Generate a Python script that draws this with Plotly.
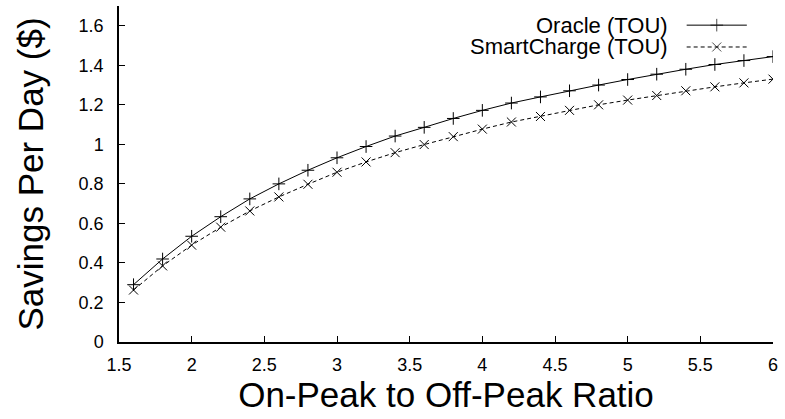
import plotly.graph_objects as go

ratio = [1.6, 1.8, 2.0, 2.2, 2.4, 2.6, 2.8, 3.0, 3.2, 3.4, 3.6, 3.8,
         4.0, 4.2, 4.4, 4.6, 4.8, 5.0, 5.2, 5.4, 5.6, 5.8, 6.0]
oracle = [0.29, 0.42, 0.535, 0.634, 0.724, 0.80, 0.869, 0.932, 0.989, 1.042, 1.086, 1.131,
          1.172, 1.209, 1.240, 1.271, 1.300, 1.328, 1.355, 1.380, 1.404, 1.424, 1.444]
smartcharge = [0.263, 0.385, 0.49, 0.581, 0.663, 0.734, 0.798, 0.859, 0.911, 0.958, 0.999, 1.039,
               1.077, 1.113, 1.141, 1.172, 1.200, 1.224, 1.247, 1.271, 1.291, 1.311, 1.330]

FONT = "Liberation Sans, Arial, sans-serif"

fig = go.Figure()

series = [
    ("Oracle (TOU)", oracle, "solid", "cross-thin"),
    ("SmartCharge (TOU)", smartcharge, "4px,3px", "x-thin"),
]

for name, vals, dash, sym in series:
    fig.add_trace(go.Scatter(
        x=ratio, y=vals, name=name, mode="lines+markers",
        line=dict(color="black", width=1, dash=dash),
        marker=dict(symbol=sym, size=9, line=dict(color="black", width=1)),
        showlegend=False,
    ))

# gnuplot-style legend: text on the left, sample on the right
leg_y = [0.943, 0.878]
for (name, vals, dash, sym), ly in zip(series, leg_y):
    fig.add_trace(go.Scatter(
        x=[0.868, 0.914, 0.960], y=[ly, ly, ly], xaxis="x2", yaxis="y2",
        mode="lines+markers",
        line=dict(color="black", width=1, dash=dash),
        marker=dict(symbol=sym, size=[0, 9, 0], line=dict(color="black", width=1)),
        showlegend=False, hoverinfo="skip",
    ))
    fig.add_annotation(
        text=name, xref="paper", yref="paper", x=0.842, y=ly,
        xanchor="right", yanchor="middle", showarrow=False,
        font=dict(family=FONT, size=22, color="black"),
    )

axis_common = dict(
    showline=True, linecolor="black", linewidth=1.5, mirror=False,
    ticks="inside", ticklen=6, tickcolor="black", tickwidth=1,
    showgrid=False, zeroline=False,
    tickfont=dict(family=FONT, size=18, color="black"),
)

fig.update_layout(
    width=785, height=419,
    margin=dict(l=119, r=12, t=6, b=77),
    paper_bgcolor="white", plot_bgcolor="white",
    xaxis=dict(range=[1.5, 6], dtick=0.5, tick0=1.5, ticklabelstandoff=6,
               title=dict(text="On-Peak to Off-Peak Ratio", standoff=6,
                          font=dict(family=FONT, size=35, color="black")),
               **axis_common),
    yaxis=dict(range=[0, 1.7], tickvals=[0, 0.2, 0.4, 0.6, 0.8, 1, 1.2, 1.4, 1.6],
               ticktext=["0", "0.2", "0.4", "0.6", "0.8", "1", "1.2", "1.4", "1.6"],
               ticklabelstandoff=10,
               title=dict(text="Savings Per Day ($)", standoff=24,
                          font=dict(family=FONT, size=35, color="black")),
               **axis_common),
    xaxis2=dict(range=[0, 1], overlaying="x", visible=False, fixedrange=True),
    yaxis2=dict(range=[0, 1], overlaying="y", visible=False, fixedrange=True),
)

fig.write_html("out.html", config={"displayModeBar": False},
               post_script="document.body.style.margin='0';")
